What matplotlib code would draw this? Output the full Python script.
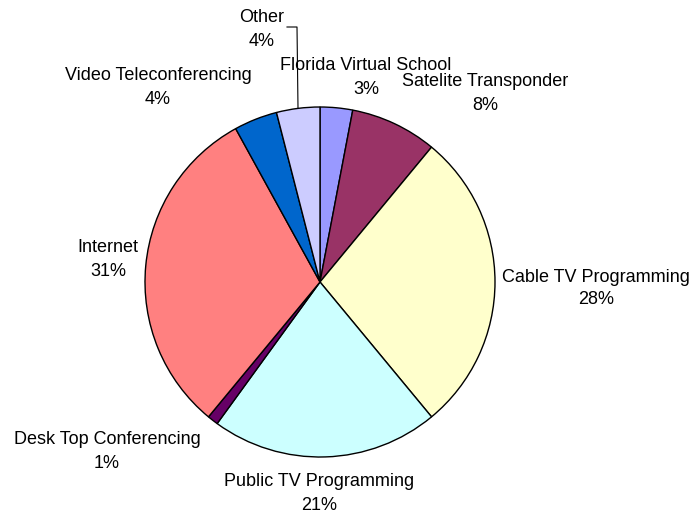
import matplotlib.pyplot as plt

# Distance learning delivery methods, share of total
categories = ["Florida Virtual School", "Satelite Transponder", "Cable TV Programming",
              "Public TV Programming", "Desk Top Conferencing", "Internet",
              "Video Teleconferencing", "Other"]
shares = [3, 8, 28, 21, 1, 31, 4, 4]
colors = ["#9999FF", "#993366", "#FFFFCC", "#CCFFFF", "#660066", "#FF8080",
          "#0066CC", "#CCCCFF"]

# label anchor points (pixels from top-left, centre of the name line)
label_pos = [(366, 66), (485, 82), (596, 277), (319, 482), (107, 440),
             (108, 248), (158, 76), (262, 18)]
LINE_GAP = 23

W, H = 693, 515
fig = plt.figure(figsize=(W / 100, H / 100), dpi=100)
ax = fig.add_axes([0, 0, 1, 1])

cx, cy, r = 320, H - 282, 175
ax.pie(shares, colors=colors, startangle=90, counterclock=False,
       center=(cx, cy), radius=r, frame=True,
       wedgeprops=dict(edgecolor="black", linewidth=1.0))
ax.set_xlim(0, W)
ax.set_ylim(0, H)
ax.set_aspect("equal")
ax.axis("off")

for name, val, (px, py) in zip(categories, shares, label_pos):
    ax.text(px, H - py, name, ha="center", va="center",
            fontsize=13, family="Liberation Sans")
    ax.text(px, H - py - LINE_GAP, f"{val}%", ha="center", va="center",
            fontsize=13, family="Liberation Sans")

# leader line for the small "Other" slice
ax.plot([287, 297, 298], [H - 27, H - 27, H - 108], color="black", linewidth=0.8)

fig.savefig("out.png", dpi=100, facecolor="white")
